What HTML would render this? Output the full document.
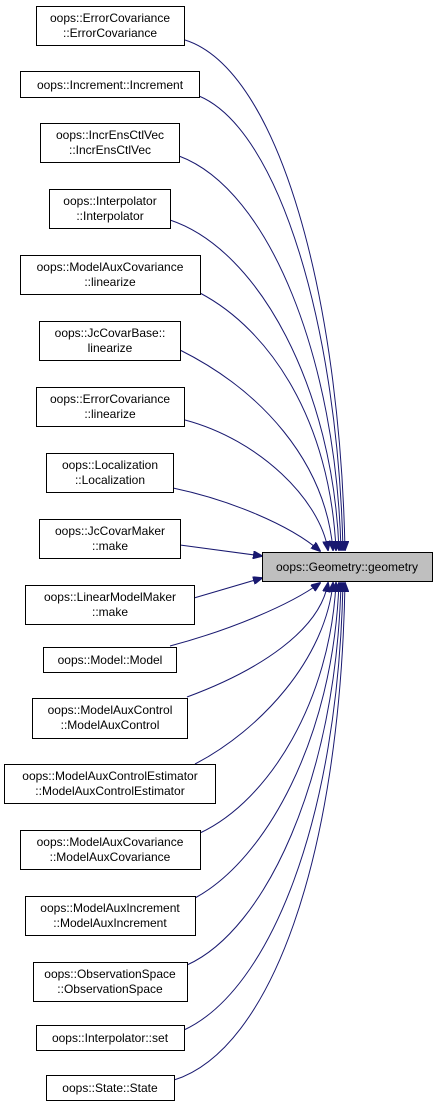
<!DOCTYPE html>
<html><head><meta charset="utf-8"><style>
html,body{margin:0;padding:0;background:#fff;}
svg{display:block;}
text{font-family:"Liberation Sans",sans-serif;font-size:12px;fill:#000;text-anchor:middle;}
.b{fill:#fff;stroke:#000;stroke-width:1;}
.e{fill:none;stroke:#191970;stroke-width:1;}
</style></head><body>
<svg width="439" height="1107" viewBox="0 0 439 1107">
<defs><marker id="a" markerWidth="10" markerHeight="8" refX="9" refY="4" orient="auto" markerUnits="userSpaceOnUse"><polygon points="0,0 10,4 0,8" fill="#191970" stroke="#191970"/></marker></defs>
<g class="e" marker-end="url(#a)">
<path d="M185,40 C280,70 340,300 345,550"/>
<path d="M199,96 C280,130 338,330 343,550"/>
<path d="M179,156 C270,190 336,360 341,550"/>
<path d="M170,220 C260,250 333,390 339,550"/>
<path d="M200,293 C270,330 330,420 336,550"/>
<path d="M180,350 C260,390 325,460 333,550"/>
<path d="M185,420 C260,440 320,500 328,550"/>
<path d="M173,488 C230,500 290,525 320,551"/>
<path d="M180,545 L262,556"/>
<path d="M194,598 L262,578"/>
<path d="M170,646 C230,630 290,605 320,583"/>
<path d="M187,697 C260,670 320,630 328,583"/>
<path d="M195,764 C260,730 325,660 333,583"/>
<path d="M200,833 C270,800 330,700 336,583"/>
<path d="M195,898 C265,860 333,740 339,583"/>
<path d="M187,965 C265,930 336,780 341,583"/>
<path d="M184,1030 C270,990 338,820 343,583"/>
<path d="M174,1080 C270,1050 340,860 345,583"/>
</g>
<rect x="262.5" y="552.5" width="170" height="29" fill="#bfbfbf" stroke="#000"/>
<text x="347" y="571">oops::Geometry::geometry</text>
<g>
<rect class="b" x="36.5" y="6.5" width="148" height="39"/><text x="110" y="22">oops::ErrorCovariance</text><text x="110" y="37">::ErrorCovariance</text>
<rect class="b" x="20.5" y="71.5" width="179" height="26"/><text x="110" y="89">oops::Increment::Increment</text>
<rect class="b" x="40.5" y="123.5" width="139" height="39"/><text x="110" y="139">oops::IncrEnsCtlVec</text><text x="110" y="154">::IncrEnsCtlVec</text>
<rect class="b" x="49.5" y="189.5" width="121" height="39"/><text x="110" y="205">oops::Interpolator</text><text x="110" y="220">::Interpolator</text>
<rect class="b" x="20.5" y="255.5" width="180" height="39"/><text x="110" y="271">oops::ModelAuxCovariance</text><text x="110" y="286">::linearize</text>
<rect class="b" x="39.5" y="321.5" width="141" height="39"/><text x="110" y="337">oops::JcCovarBase::</text><text x="110" y="352">linearize</text>
<rect class="b" x="36.5" y="387.5" width="148" height="39"/><text x="110" y="403">oops::ErrorCovariance</text><text x="110" y="418">::linearize</text>
<rect class="b" x="46.5" y="453.5" width="127" height="39"/><text x="110" y="469">oops::Localization</text><text x="110" y="484">::Localization</text>
<rect class="b" x="39.5" y="519.5" width="141" height="39"/><text x="110" y="535">oops::JcCovarMaker</text><text x="110" y="550">::make</text>
<rect class="b" x="25.5" y="585.5" width="169" height="39"/><text x="110" y="601">oops::LinearModelMaker</text><text x="110" y="616">::make</text>
<rect class="b" x="43.5" y="647.5" width="133" height="25"/><text x="110" y="664">oops::Model::Model</text>
<rect class="b" x="32.5" y="698.5" width="155" height="40"/><text x="110" y="714">oops::ModelAuxControl</text><text x="110" y="729">::ModelAuxControl</text>
<rect class="b" x="4.5" y="764.5" width="211" height="39"/><text x="110" y="780">oops::ModelAuxControlEstimator</text><text x="110" y="795">::ModelAuxControlEstimator</text>
<rect class="b" x="20.5" y="830.5" width="180" height="39"/><text x="110" y="846">oops::ModelAuxCovariance</text><text x="110" y="861">::ModelAuxCovariance</text>
<rect class="b" x="25.5" y="896.5" width="170" height="39"/><text x="110" y="912">oops::ModelAuxIncrement</text><text x="110" y="927">::ModelAuxIncrement</text>
<rect class="b" x="33.5" y="962.5" width="154" height="39"/><text x="110" y="978">oops::ObservationSpace</text><text x="110" y="993">::ObservationSpace</text>
<rect class="b" x="36.5" y="1025.5" width="148" height="25"/><text x="110" y="1042">oops::Interpolator::set</text>
<rect class="b" x="46.5" y="1075.5" width="128" height="25"/><text x="110" y="1092">oops::State::State</text>
</g>
</svg>
</body></html>
